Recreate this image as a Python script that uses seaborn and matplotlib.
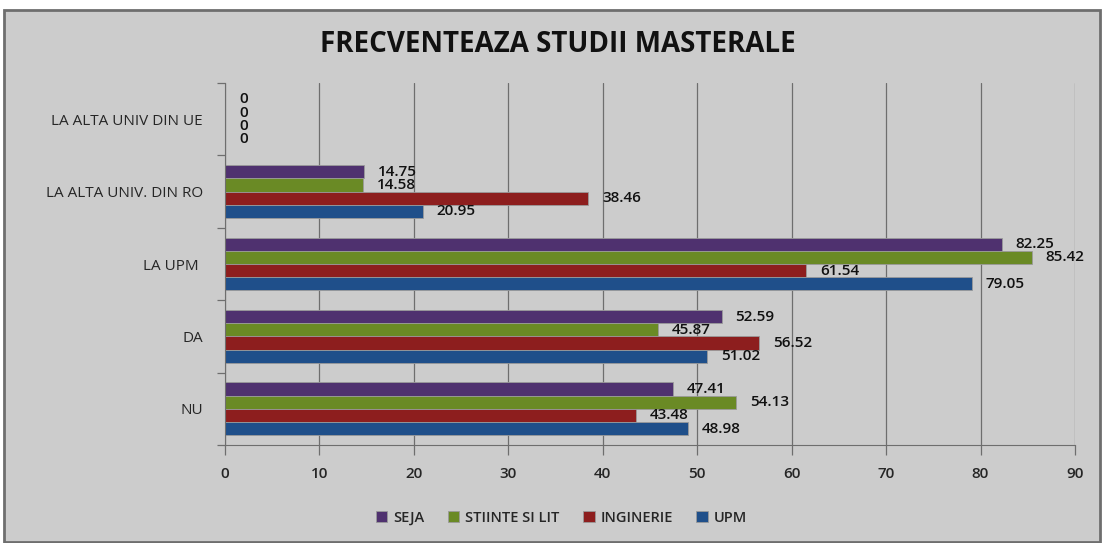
import pandas as pd
import numpy as np
import matplotlib.pyplot as plt
import seaborn as sns
from matplotlib.patches import Rectangle
from matplotlib.ticker import FixedLocator

categories = ['LA ALTA UNIV DIN UE', 'LA ALTA UNIV. DIN RO', 'LA UPM ', 'DA', 'NU']
series = ['SEJA', 'STIINTE SI LIT', 'INGINERIE', 'UPM']
seja = [0, 14.75, 82.25, 52.59, 47.41]
stiinte = [0, 14.58, 85.42, 45.87, 54.13]
inginerie = [0, 38.46, 61.54, 56.52, 43.48]
upm = [0, 20.95, 79.05, 51.02, 48.98]
colors = ['#4f316f', '#6a8a25', '#8d1e1e', '#1f4f8a']

rows = []
for name, vals in zip(series, [seja, stiinte, inginerie, upm]):
    for cat, v in zip(categories, vals):
        rows.append({'cat': cat, 'serie': name, 'val': v})
df = pd.DataFrame(rows)

sns.set_style('white')
plt.rcParams['font.family'] = ['Open Sans', 'DejaVu Sans']

fig = plt.figure(figsize=(11.05, 5.43), dpi=100, facecolor='white')
fig.patches.append(Rectangle((4 / 1105, 1 / 543), 1096 / 1105, 532 / 543,
                             transform=fig.transFigure, facecolor='#cccccc',
                             edgecolor='#6e6e6e', linewidth=2, zorder=-5))
# plot area: x 225..1075 px, y 83..445 px
ax = fig.add_axes([225 / 1105, 1 - 445 / 543, 850 / 1105, 362 / 543])
ax.set_facecolor('#cccccc')

sns.barplot(data=df, x='val', y='cat', hue='serie', order=categories,
            hue_order=series, palette=colors, orient='h', width=0.73,
            saturation=1, edgecolor='#9a9a9a', linewidth=0.6, ax=ax)

for cont in ax.containers:
    ax.bar_label(cont, fmt='%g', padding=10, fontsize=11, color='#111111',
                 fontweight='semibold')

ax.set_xlim(0, 90)
ax.set_ylim(4.5, -0.5)
ax.set_xticks(np.arange(0, 91, 10))
ax.grid(axis='x', color='#6e6e6e', linewidth=0.9)
ax.set_axisbelow(True)
for s in ['top', 'right']:
    ax.spines[s].set_visible(False)
for s in ['left', 'bottom']:
    ax.spines[s].set_color('#6e6e6e')
ax.tick_params(axis='x', bottom=True, length=7, width=0.9, color='#6e6e6e',
               pad=9, labelsize=11)
ax.tick_params(axis='y', left=False, length=0, pad=16, labelsize=11)
ax.yaxis.set_minor_locator(FixedLocator(np.arange(-0.5, 5, 1)))
ax.tick_params(axis='y', which='minor', left=True, length=6, width=0.9,
               color='#6e6e6e')
for t in ax.get_xticklabels():
    t.set_fontweight('semibold')
ax.set_xlabel('')
ax.set_ylabel('')

fig.text(0.505, 1 - 45 / 543, 'FRECVENTEAZA STUDII MASTERALE', ha='center',
         va='center', fontsize=20, fontweight='bold', color='#111111')

handles, labels = ax.get_legend_handles_labels()
ax.legend(handles, labels, loc='center', bbox_to_anchor=(0.508, 25 / 543),
          bbox_transform=fig.transFigure, ncol=4, frameon=False,
          prop={'size': 10.5, 'weight': 'semibold'},
          handlelength=0.8, handleheight=0.8, columnspacing=1.6, handletextpad=0.4)

fig.savefig('out.png', dpi=100, facecolor='white')
